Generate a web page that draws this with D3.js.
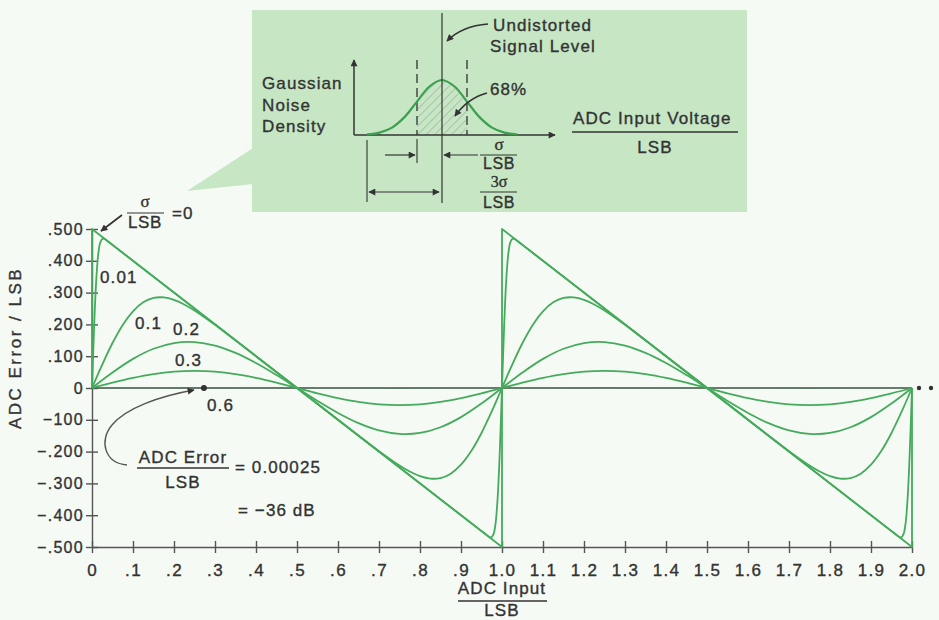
<!DOCTYPE html>
<html><head><meta charset="utf-8">
<script src="https://cdn.jsdelivr.net/npm/d3@7"></script>
<style>
html,body{margin:0;padding:0;background:#f6faf4;}
svg{display:block;}
text{font-family:"Liberation Sans",Arial,sans-serif;fill:#333;stroke:#333;stroke-width:0.35px;}
</style></head><body>
<svg id="chart" width="939" height="620"></svg>
<script>
// ---------------- data ----------------
const xTicks = [0,.1,.2,.3,.4,.5,.6,.7,.8,.9,1.0,1.1,1.2,1.3,1.4,1.5,1.6,1.7,1.8,1.9,2.0];
const xTickLabels = ["0",".1",".2",".3",".4",".5",".6",".7",".8",".9","1.0","1.1","1.2","1.3","1.4","1.5","1.6","1.7","1.8","1.9","2.0"];
const yTicks = [.5,.4,.3,.2,.1,0,-.1,-.2,-.3,-.4,-.5];
const yTickLabels = [".500",".400",".300",".200",".100","0","\u2212100","\u2212.200","\u2212.300","\u2212.400","\u2212.500"];

// sigma/LSB = 0 (ideal sawtooth)
const s0_x = [0,0,1,1,2,2];
const s0_y = [0,.5,-.5,.5,-.5,0];
// sigma/LSB = 0.01
const s001_x = [0,.005,.01,.015,.02,.025,.03,.04,.05,.95,.96,.97,.975,.98,.985,.99,.995,1,
  1.005,1.01,1.015,1.02,1.025,1.03,1.04,1.05,1.95,1.96,1.97,1.975,1.98,1.985,1.99,1.995,2];
const s001_y = [0,.1865,.3313,.4182,.4573,.4688,.4687,.4600,.4500,-.4500,-.4600,-.4687,-.4688,-.4573,-.4182,-.3313,-.1865,0,
  .1865,.3313,.4182,.4573,.4688,.4687,.4600,.4500,-.4500,-.4600,-.4687,-.4688,-.4573,-.4182,-.3313,-.1865,0];
// sigma/LSB = 0.1
const s01_x = [0,.025,.05,.075,.1,.125,.15,.175,.2,.225,.25,.3,.35,.4,.45,.5,.55,.6,.65,.7,.75,.775,.8,.825,.85,.875,.9,.925,.95,.975,1,
  1.025,1.05,1.075,1.1,1.125,1.15,1.175,1.2,1.225,1.25,1.3,1.35,1.4,1.45,1.5,1.55,1.6,1.65,1.7,1.75,1.775,1.8,1.825,1.85,1.875,1.9,1.925,1.95,1.975,2];
const s01_y = [0,.0737,.1415,.1984,.2413,.2694,.2832,.2849,.2773,.2628,.2438,.1987,.1498,.1000,.0500,0,-.0500,-.1000,-.1498,-.1987,-.2438,-.2628,-.2773,-.2849,-.2832,-.2694,-.2413,-.1984,-.1415,-.0737,0,
  .0737,.1415,.1984,.2413,.2694,.2832,.2849,.2773,.2628,.2438,.1987,.1498,.1000,.0500,0,-.0500,-.1000,-.1498,-.1987,-.2438,-.2628,-.2773,-.2849,-.2832,-.2694,-.2413,-.1984,-.1415,-.0737,0];
// common x grid for sigma 0.2 / 0.3
const sx = [0,.05,.1,.15,.2,.25,.3,.35,.4,.45,.5,.55,.6,.65,.7,.75,.8,.85,.9,.95,1,
  1.05,1.1,1.15,1.2,1.25,1.3,1.35,1.4,1.45,1.5,1.55,1.6,1.65,1.7,1.75,1.8,1.85,1.9,1.95,2];
const s02_y = [0,.0487,.0915,.1234,.1414,.1445,.1335,.1105,.0785,.0407,0,-.0407,-.0785,-.1105,-.1335,-.1445,-.1414,-.1234,-.0915,-.0487,0,
  .0487,.0915,.1234,.1414,.1445,.1335,.1105,.0785,.0407,0,-.0407,-.0785,-.1105,-.1335,-.1445,-.1414,-.1234,-.0915,-.0487,0];
const s03_y = [0,.0167,.0317,.0436,.0513,.0539,.0513,.0436,.0317,.0167,0,-.0167,-.0317,-.0436,-.0513,-.0539,-.0513,-.0436,-.0317,-.0167,0,
  .0167,.0317,.0436,.0513,.0539,.0513,.0436,.0317,.0167,0,-.0167,-.0317,-.0436,-.0513,-.0539,-.0513,-.0436,-.0317,-.0167,0];
// sigma/LSB = 0.6 (error 0.00025)
const s06_x = [0,.25,.5,.75,1,1.25,1.5,1.75,2];
const s06_y = [0,.00025,0,-.00025,0,.00025,0,-.00025,0];

const curveLabels = ["0.01","0.1","0.2","0.3","0.6"];
const markerPoint = [0.273, 0];

// inset gaussian (in sigma units)
const gaussZ = [-3,-2.5,-2,-1.5,-1,-.5,0,.5,1,1.5,2,2.5,3];
const gaussD = [.011,.044,.135,.325,.607,.882,1,.882,.607,.325,.135,.044,.011];

// ---------------- drawing ----------------
const GREEN = "#45ab5c", AX = "#555";
const svg = d3.select("#chart");
const defs = svg.append("defs");
defs.append("marker").attr("id","ah").attr("viewBox","0 0 10 10").attr("refX",9).attr("refY",5)
  .attr("markerWidth",9).attr("markerHeight",7).attr("markerUnits","userSpaceOnUse").attr("orient","auto-start-reverse")
  .append("path").attr("d","M0,0 L10,5 L0,10 z").attr("fill","#333");
const pat = defs.append("pattern").attr("id","hatch").attr("patternUnits","userSpaceOnUse")
  .attr("width",6).attr("height",6).attr("patternTransform","rotate(45)");
pat.append("line").attr("x1",0).attr("y1",0).attr("x2",0).attr("y2",6).attr("stroke","#8f9f8f").attr("stroke-width",1);

svg.append("rect").attr("width",939).attr("height",620).attr("fill","#f6faf4");

const x = d3.scaleLinear().domain([0,2]).range([92,912]);
const y = d3.scaleLinear().domain([-0.5,0.5]).range([547,229]);

// ---- inset box with pointer ----
const inset = svg.append("g");
inset.append("path").attr("d","M253,148 L253,184 L187,191 Z").attr("fill","#c6e6c4");
inset.append("rect").attr("x",252).attr("y",10).attr("width",495).attr("height",202).attr("fill","#c6e6c4");

const gx = d3.scaleLinear().domain([-3,3]).range([367,517]);
const gy = d3.scaleLinear().domain([0,1]).range([135,80]);
const gpts = gaussZ.map((z,i)=>[z,gaussD[i]]);
const hatchPts = gpts.filter(p=>p[0]>=-1 && p[0]<=1);
inset.append("path").datum(hatchPts)
  .attr("d", d3.area().x(d=>gx(d[0])).y0(gy(0)).y1(d=>gy(d[1])).curve(d3.curveCatmullRom.alpha(0.5)))
  .attr("fill","url(#hatch)");
inset.append("line").attr("x1",gx(-3)-13).attr("y1",gy(0)).attr("x2",gx(-3)-13).attr("y2",60)
  .attr("stroke","#333").attr("stroke-width",1.5).attr("marker-end","url(#ah)");
inset.append("line").attr("x1",gx(-3)-13).attr("y1",gy(0)).attr("x2",555).attr("y2",gy(0))
  .attr("stroke","#333").attr("stroke-width",1.5).attr("marker-end","url(#ah)");
[-1,1].forEach(z=>{
  inset.append("line").attr("x1",gx(z)).attr("x2",gx(z)).attr("y1",60).attr("y2",gy(0))
    .attr("stroke","#333").attr("stroke-width",1.3).attr("stroke-dasharray","9,5");
});
inset.append("path").datum(gpts)
  .attr("d", d3.line().x(d=>gx(d[0])).y(d=>gy(d[1])).curve(d3.curveCatmullRom.alpha(0.5)))
  .attr("fill","none").attr("stroke","#3d9f50").attr("stroke-width",2.2);
inset.append("line").attr("x1",gx(0)).attr("x2",gx(0)).attr("y1",13).attr("y2",203).attr("stroke","#333").attr("stroke-width",1.2);
inset.append("line").attr("x1",gx(-3)).attr("x2",gx(-3)).attr("y1",140).attr("y2",202).attr("stroke","#333").attr("stroke-width",1.1);
inset.append("line").attr("x1",gx(-1)).attr("x2",gx(-1)).attr("y1",139).attr("y2",163).attr("stroke","#333").attr("stroke-width",1.1);
inset.append("line").attr("x1",385).attr("x2",gx(-1)-2).attr("y1",155).attr("y2",155).attr("stroke","#333").attr("stroke-width",1.2).attr("marker-end","url(#ah)");
inset.append("line").attr("x1",478).attr("x2",gx(0)+2).attr("y1",155).attr("y2",155).attr("stroke","#333").attr("stroke-width",1.2).attr("marker-end","url(#ah)");
inset.append("line").attr("x1",gx(-3)+2).attr("x2",gx(0)-3).attr("y1",192).attr("y2",192).attr("stroke","#333").attr("stroke-width",1.2)
  .attr("marker-start","url(#ah)").attr("marker-end","url(#ah)");
const T = (g,txt,xx,yy,opt={})=>{
  const t=g.append("text").attr("x",xx).attr("y",yy).text(txt)
    .attr("font-size",opt.size||17).attr("letter-spacing",opt.ls!==undefined?opt.ls:1.1);
  if(opt.anchor) t.attr("text-anchor",opt.anchor);
  if(opt.family) t.style("font-family",opt.family);
  return t;
};
T(inset,"Gaussian",262,89); T(inset,"Noise",262,111); T(inset,"Density",262,132);
T(inset,"Undistorted",493,31); T(inset,"Signal Level",490,52);
T(inset,"68%",490,95);
T(inset,"ADC Input Voltage",573,124);
inset.append("line").attr("x1",572).attr("x2",738).attr("y1",132).attr("y2",132).attr("stroke","#333").attr("stroke-width",1.3);
T(inset,"LSB",655,153,{anchor:"middle"});
T(inset,"\u03c3",499,150,{anchor:"middle",family:"'Liberation Serif',serif",ls:0,size:17});
inset.append("line").attr("x1",480).attr("x2",517).attr("y1",155).attr("y2",155).attr("stroke","#333").attr("stroke-width",1.2);
T(inset,"LSB",499,169,{anchor:"middle",ls:0.6,size:16});
T(inset,"3\u03c3",499,187,{anchor:"middle",family:"'Liberation Serif',serif",ls:0,size:16});
inset.append("line").attr("x1",480).attr("x2",517).attr("y1",192).attr("y2",192).attr("stroke","#333").attr("stroke-width",1.2);
T(inset,"LSB",499,208,{anchor:"middle",ls:0.6,size:16});
inset.append("path").attr("d","M488,24 Q462,26 447,41").attr("fill","none").attr("stroke","#333").attr("stroke-width",1.5).attr("marker-end","url(#ah)");
inset.append("path").attr("d","M487,93 Q468,98 455,116").attr("fill","none").attr("stroke","#333").attr("stroke-width",1.5).attr("marker-end","url(#ah)");

// ---- main plot ----
const plot = svg.append("g");
const mk = (xs,ys)=>xs.map((v,i)=>[v,ys[i]]);
const smooth = d3.line().x(d=>x(d[0])).y(d=>y(d[1])).curve(d3.curveCatmullRom.alpha(0.5));
const linear = d3.line().x(d=>x(d[0])).y(d=>y(d[1]));

plot.append("path").attr("d",smooth(mk(s06_x,s06_y))).attr("fill","none").attr("stroke",GREEN).attr("stroke-width",1.6);
plot.append("line").attr("x1",x(0)).attr("x2",x(2)).attr("y1",y(0)).attr("y2",y(0)).attr("stroke","#666").attr("stroke-width",1.3);

const xAxis = plot.append("g").attr("transform",`translate(0,${y(-0.5)})`)
  .call(d3.axisBottom(x).tickValues(xTicks).tickFormat((d,i)=>xTickLabels[i]).tickSize(6).tickSizeOuter(0));
xAxis.select(".domain").attr("stroke",AX).attr("stroke-width",1.4);
xAxis.selectAll(".tick line").attr("y1",-6).attr("stroke",AX).attr("stroke-width",1.4);
xAxis.selectAll(".tick text").attr("y",29).attr("dy",0).attr("font-size",17).attr("letter-spacing",1.3)
  .attr("fill","#333").attr("stroke","#333").attr("stroke-width",0.35).style("font-family","'Liberation Sans',Arial,sans-serif");
const yAxis = plot.append("g").attr("transform",`translate(${x(0)},0)`)
  .call(d3.axisLeft(y).tickValues(yTicks).tickFormat((d,i)=>yTickLabels[i]).tickSize(6).tickSizeOuter(0));
yAxis.select(".domain").attr("stroke",AX).attr("stroke-width",1.4);
yAxis.selectAll(".tick line").attr("x1",6).attr("stroke",AX).attr("stroke-width",1.4);
yAxis.selectAll(".tick text").attr("x",-8).attr("font-size",16).attr("letter-spacing",1.3)
  .attr("fill","#333").attr("stroke","#333").attr("stroke-width",0.35).style("font-family","'Liberation Sans',Arial,sans-serif");

const curves = [
  {d:mk(sx,s03_y), gen:smooth},
  {d:mk(sx,s02_y), gen:smooth},
  {d:mk(s01_x,s01_y), gen:smooth},
  {d:mk(s001_x,s001_y), gen:smooth},
  {d:mk(s0_x,s0_y), gen:linear}
];
curves.forEach(c=>{
  plot.append("path").attr("d",c.gen(c.d)).attr("fill","none").attr("stroke",GREEN)
    .attr("stroke-width",1.8).attr("stroke-linejoin","round");
});

[919,931].forEach(cx=>plot.append("circle").attr("cx",cx).attr("cy",y(0)).attr("r",2.2).attr("fill","#333"));

const labPos = [[100,283],[135,329],[173,335],[175,366],[207,411]];
curveLabels.forEach((t,i)=>T(plot,t,labPos[i][0],labPos[i][1]));

T(plot,"\u03c3",145,207,{anchor:"middle",family:"'Liberation Serif',serif",ls:0,size:17});
plot.append("line").attr("x1",127).attr("x2",164).attr("y1",213).attr("y2",213).attr("stroke","#333").attr("stroke-width",1.2);
T(plot,"LSB",145,228,{anchor:"middle",ls:0.6});
T(plot,"=0",172,219);
plot.append("line").attr("x1",122).attr("y1",215).attr("x2",x(0)+9).attr("y2",y(0.5)+2)
  .attr("stroke","#333").attr("stroke-width",1.6).attr("marker-end","url(#ah)");

plot.append("circle").attr("cx",x(markerPoint[0])).attr("cy",y(markerPoint[1])).attr("r",3).attr("fill","#333");
plot.append("path").attr("d","M127,465 C104,463 99,440 112,425 C126,408 160,396 194,390")
  .attr("fill","none").attr("stroke","#555").attr("stroke-width",1.4).attr("marker-end","url(#ah)");
T(plot,"ADC Error",183,463,{anchor:"middle"});
plot.append("line").attr("x1",137).attr("x2",229).attr("y1",468).attr("y2",468).attr("stroke","#333").attr("stroke-width",1.3);
T(plot,"LSB",183,488,{anchor:"middle"});
T(plot,"= 0.00025",235,473);
T(plot,"= \u221236 dB",238,516);

T(plot,"ADC Input",502,594,{anchor:"middle"});
plot.append("line").attr("x1",458).attr("x2",547).attr("y1",601).attr("y2",601).attr("stroke","#333").attr("stroke-width",1.3);
T(plot,"LSB",502,616,{anchor:"middle"});
T(plot,"ADC Error / LSB",0,0,{anchor:"middle",size:17,ls:2.5}).attr("transform","translate(21,348) rotate(-90)");
</script>
</body></html>
